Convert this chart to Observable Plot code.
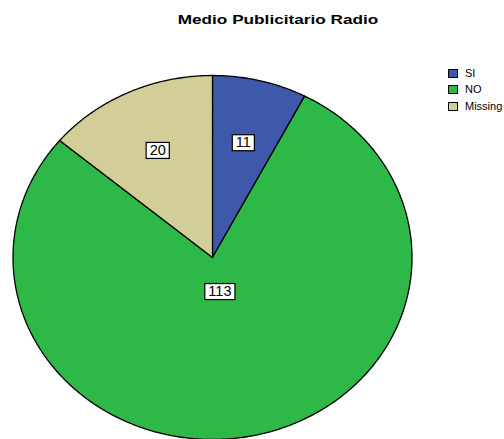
<!DOCTYPE html>
<html>
<head>
<meta charset="utf-8">
<script src="https://cdn.jsdelivr.net/npm/d3@7"></script>
<script src="https://cdn.jsdelivr.net/npm/@observablehq/plot@0.6"></script>
<style>
  html, body { margin: 0; padding: 0; background: #fff; }
  #wrap { position: relative; width: 504px; height: 439px; overflow: hidden; font-family: "Liberation Sans", Arial, sans-serif; }
  #title { position: absolute; top: 13px; left: 277.5px; font-weight: bold; font-size: 13px; line-height: 13px; white-space: nowrap; color: #000; }
  .leg-item { position: absolute; left: 448px; height: 10px; white-space: nowrap; }
  .leg-sw { position: absolute; left: 0; top: 0; width: 10px; height: 9px; box-sizing: border-box; border: 1px solid #000; }
  .leg-tx { position: absolute; left: 17px; top: -1px; font-size: 11px; line-height: 11px; color: #000; }
</style>
</head>
<body>
<div id="wrap">
  <div id="title">Medio Publicitario Radio</div>
</div>
<script>
// ---- data ----
const title = "Medio Publicitario Radio";
const categories = ["SI", "NO", "Missing"];
const counts = [11, 113, 20];
const colors = ["#3E58AC", "#2EB848", "#D3CE97"];

// ---- derived geometry (pie in unit data space) ----
const total = d3.sum(counts);
let acc = 0;
const slices = categories.map((c, i) => {
  const a0 = acc / total * 2 * Math.PI;
  acc += counts[i];
  const a1 = acc / total * 2 * Math.PI;
  return { cat: c, value: counts[i], a0, a1, share: counts[i] / total };
});
const pts = [];
for (const s of slices) {
  pts.push({ cat: s.cat, x: 0, y: 0 });
  const n = Math.max(2, Math.ceil((s.a1 - s.a0) / (Math.PI / 360)));
  for (let k = 0; k <= n; k++) {
    const a = s.a0 + (s.a1 - s.a0) * k / n;
    pts.push({ cat: s.cat, x: Math.sin(a), y: Math.cos(a) });
  }
  pts.push({ cat: s.cat, x: 0, y: 0 });
}
const labels = slices.map(s => {
  const m = (s.a0 + s.a1) / 2;
  const f = s.share > 0.5 ? 0.19 : 0.65;
  return { text: String(s.value), x: f * Math.sin(m), y: f * Math.cos(m) };
});

const chart = Plot.plot({
  width: 504,
  height: 439,
  margin: 0,
  style: { fontFamily: "Liberation Sans, Arial, sans-serif", background: "white" },
  x: { domain: [-1, 1], range: [12.5, 411.5], axis: null },
  y: { domain: [-1, 1], range: [439, 75], axis: null },
  color: { domain: categories, range: colors },
  marks: [
    Plot.line(pts, { x: "x", y: "y", z: "cat", fill: "cat", stroke: "#000", strokeWidth: 1.3, curve: "linear" }),
    Plot.text(labels, { x: "x", y: "y", text: "text", fontSize: 14.5, fill: "#000" })
  ]
});

const wrap = document.getElementById("wrap");
wrap.insertBefore(chart, wrap.firstChild);

// boxes behind slice labels
chart.querySelectorAll('g[aria-label="text"] text').forEach(t => {
  const b = t.getBBox();
  const r = document.createElementNS("http://www.w3.org/2000/svg", "rect");
  r.setAttribute("x", b.x - 3.5);
  r.setAttribute("y", b.y + 0.5);
  r.setAttribute("width", b.width + 7);
  r.setAttribute("height", b.height);
  r.setAttribute("fill", "#fff");
  r.setAttribute("stroke", "#000");
  r.setAttribute("stroke-width", "1.2");
  const tr = t.getAttribute("transform");
  if (tr) r.setAttribute("transform", tr);
  t.parentNode.insertBefore(r, t);
});

// title stretched to match reference width
const tEl = document.getElementById("title");
tEl.textContent = title;
const w = tEl.offsetWidth;
tEl.style.transform = `translateX(-50%) scaleX(${201 / w})`;

// legend
const legCenters = [73, 89.7, 106.3];
categories.forEach((c, i) => {
  const item = document.createElement("div");
  item.className = "leg-item";
  item.style.top = (legCenters[i] - 4.5) + "px";
  const sw = document.createElement("div");
  sw.className = "leg-sw";
  sw.style.background = colors[i];
  const tx = document.createElement("div");
  tx.className = "leg-tx";
  tx.textContent = c;
  item.appendChild(sw);
  item.appendChild(tx);
  wrap.appendChild(item);
});
</script>
</body>
</html>
